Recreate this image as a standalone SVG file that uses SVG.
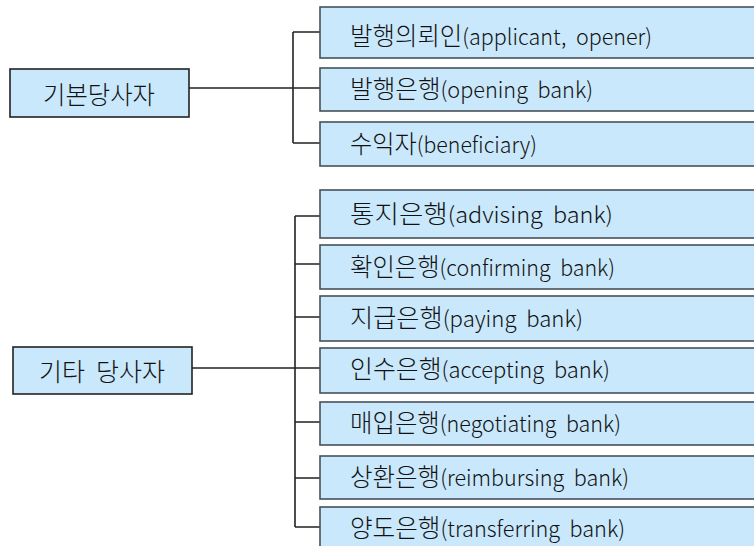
<svg xmlns="http://www.w3.org/2000/svg" width="754" height="546" viewBox="0 0 754 546">
<style>
.box{fill:#c9e8fb;stroke:#46505a;stroke-width:1.6}
.lbox{fill:#c9e8fb;stroke:#222;stroke-width:1.6}
.t{font-family:"Noto Sans CJK KR","Noto Sans",sans-serif;font-size:22px;font-weight:300;fill:#111;white-space:pre}
.k{font-size:25px}
.c{stroke:#222;stroke-width:1.6;fill:none}
</style>
<rect width="754" height="546" fill="#fff"/>
<g id="connectors">
<path class="c" d="M293,32V143M293,32H320M189,88H320M293,143H320"/>
<path class="c" d="M295,216V527M295,216H320M295,264H320M295,317H320M192,368H320M295,422H320M295,478H320M295,527H320"/>
</g>
<g id="n-basic"><rect class="lbox" x="10" y="69" width="179" height="48"/><text class="t k" x="43" y="104" textLength="112" lengthAdjust="spacingAndGlyphs">기본당사자</text></g>
<g id="n-applicant"><rect class="box" x="320" y="7" width="440" height="51"/><text class="t" x="350" y="45" textLength="302" lengthAdjust="spacingAndGlyphs" xml:space="preserve"><tspan class="k">발행의뢰인</tspan>(applicant,  opener)</text></g>
<g id="n-opening"><rect class="box" x="320" y="68" width="440" height="43"/><text class="t" x="350" y="98" textLength="243" lengthAdjust="spacingAndGlyphs" xml:space="preserve"><tspan class="k">발행은행</tspan>(opening  bank)</text></g>
<g id="n-beneficiary"><rect class="box" x="320" y="122" width="440" height="44"/><text class="t" x="350" y="153" textLength="187" lengthAdjust="spacingAndGlyphs"><tspan class="k">수익자</tspan>(beneficiary)</text></g>
<g id="n-other"><rect class="lbox" x="13" y="347" width="179" height="47"/><text class="t k" x="39" y="381" textLength="126" lengthAdjust="spacingAndGlyphs" xml:space="preserve">기타  당사자</text></g>
<g id="n-advising"><rect class="box" x="320" y="190" width="440" height="48"/><text class="t" x="350" y="223" textLength="263" lengthAdjust="spacingAndGlyphs" xml:space="preserve"><tspan class="k">통지은행</tspan>(advising  bank)</text></g>
<g id="n-confirming"><rect class="box" x="320" y="245" width="440" height="44"/><text class="t" x="350" y="276" textLength="265" lengthAdjust="spacingAndGlyphs" xml:space="preserve"><tspan class="k">확인은행</tspan>(confirming  bank)</text></g>
<g id="n-paying"><rect class="box" x="320" y="296" width="440" height="45"/><text class="t" x="350" y="327" textLength="233" lengthAdjust="spacingAndGlyphs" xml:space="preserve"><tspan class="k">지급은행</tspan>(paying  bank)</text></g>
<g id="n-accepting"><rect class="box" x="320" y="348" width="440" height="45"/><text class="t" x="350" y="378" textLength="260" lengthAdjust="spacingAndGlyphs" xml:space="preserve"><tspan class="k">인수은행</tspan>(accepting  bank)</text></g>
<g id="n-negotiating"><rect class="box" x="320" y="402" width="440" height="43"/><text class="t" x="350" y="432" textLength="271" lengthAdjust="spacingAndGlyphs" xml:space="preserve"><tspan class="k">매입은행</tspan>(negotiating  bank)</text></g>
<g id="n-reimbursing"><rect class="box" x="320" y="456" width="440" height="43"/><text class="t" x="350" y="486" textLength="279" lengthAdjust="spacingAndGlyphs" xml:space="preserve"><tspan class="k">상환은행</tspan>(reimbursing  bank)</text></g>
<g id="n-transferring"><rect class="box" x="320" y="507" width="440" height="60"/><text class="t" x="350" y="537" textLength="275" lengthAdjust="spacingAndGlyphs" xml:space="preserve"><tspan class="k">양도은행</tspan>(transferring  bank)</text></g>
</svg>
